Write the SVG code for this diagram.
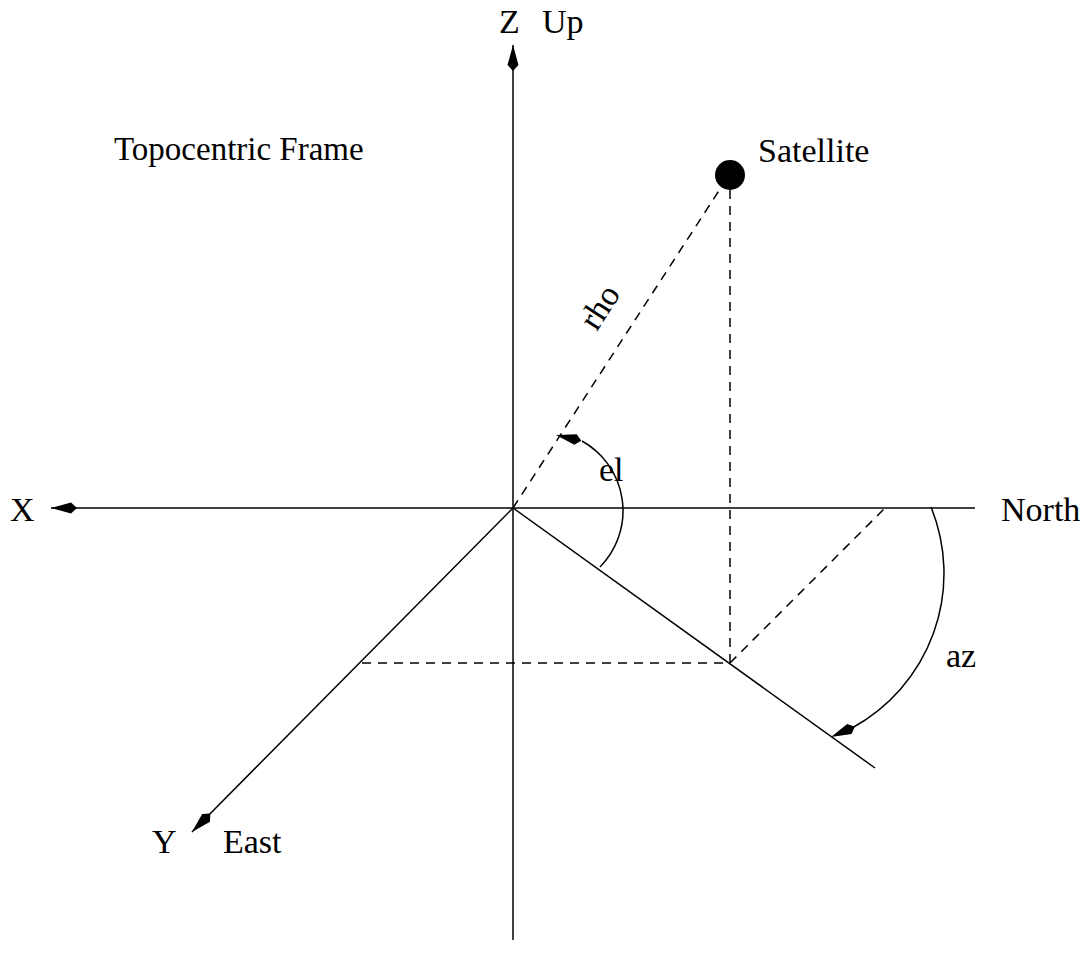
<svg xmlns="http://www.w3.org/2000/svg" width="1089" height="969" viewBox="0 0 1089 969">
<style>
.ln{stroke:#000;stroke-width:1.5;fill:none}
.dash{stroke:#000;stroke-width:1.5;fill:none;stroke-dasharray:9 7}
.ah{stroke:none;fill:none}
text{font-family:"Liberation Serif","Times New Roman",serif;font-size:34px;fill:#000}
</style>
<defs>
<marker id="arrow" markerUnits="userSpaceOnUse" viewBox="-28 -8 30 16" markerWidth="30" markerHeight="16" refX="0" refY="0" orient="auto">
<path d="M0,0 L-20,-5.5 L-26,0 L-20,5.5 Z" fill="#000"/>
</marker>
</defs>
<rect width="1089" height="969" fill="#fff"/>
<g id="connectors">
<path id="z-axis" class="ln" d="M513,940 L513,45" marker-end="url(#arrow)"/>
<path id="x-axis" class="ln" d="M975,508 L51,508" marker-end="url(#arrow)"/>
<path id="y-axis" class="ln" d="M513,508 L192,832" marker-end="url(#arrow)"/>
<path id="ground-track" class="ln" d="M513,508 L875,768"/>
<path id="rho-line" class="dash" d="M513,508 L722,186"/>
<path id="drop-line" class="dash" d="M730,190 L730,663"/>
<path id="east-proj" class="dash" d="M362,663 L730,663"/>
<path id="north-proj" class="dash" d="M730,663 L885,508"/>
<path id="el-arc" class="ln" d="M600,567 A80,80 0 0,0 582,441"/>
<path class="ah" d="M582,441 L556,435" marker-end="url(#arrow)"/>
<path id="az-arc" class="ln" d="M931,507 A176,176 0 0,1 852,728"/>
<path class="ah" d="M853,727.5 L831,737" marker-end="url(#arrow)"/>
</g>
<g id="satellite">
<circle cx="730" cy="175" r="15" fill="#000"/>
<text x="758" y="162">Satellite</text>
</g>
<g id="title"><text x="114" y="160" style="font-size:33px">Topocentric Frame</text></g>
<g id="z-label"><text x="499" y="33">Z</text><text x="542" y="33">Up</text></g>
<g id="x-label"><text x="10" y="521">X</text></g>
<g id="north-label"><text x="1001" y="521">North</text></g>
<g id="y-label"><text x="152" y="853">Y</text><text x="223" y="853">East</text></g>
<g id="el-label"><text x="599" y="481">el</text></g>
<g id="az-label"><text x="946" y="667">az</text></g>
<g id="rho-label"><text x="609" y="313" text-anchor="middle" transform="rotate(-57 609 313)">rho</text></g>
</svg>
